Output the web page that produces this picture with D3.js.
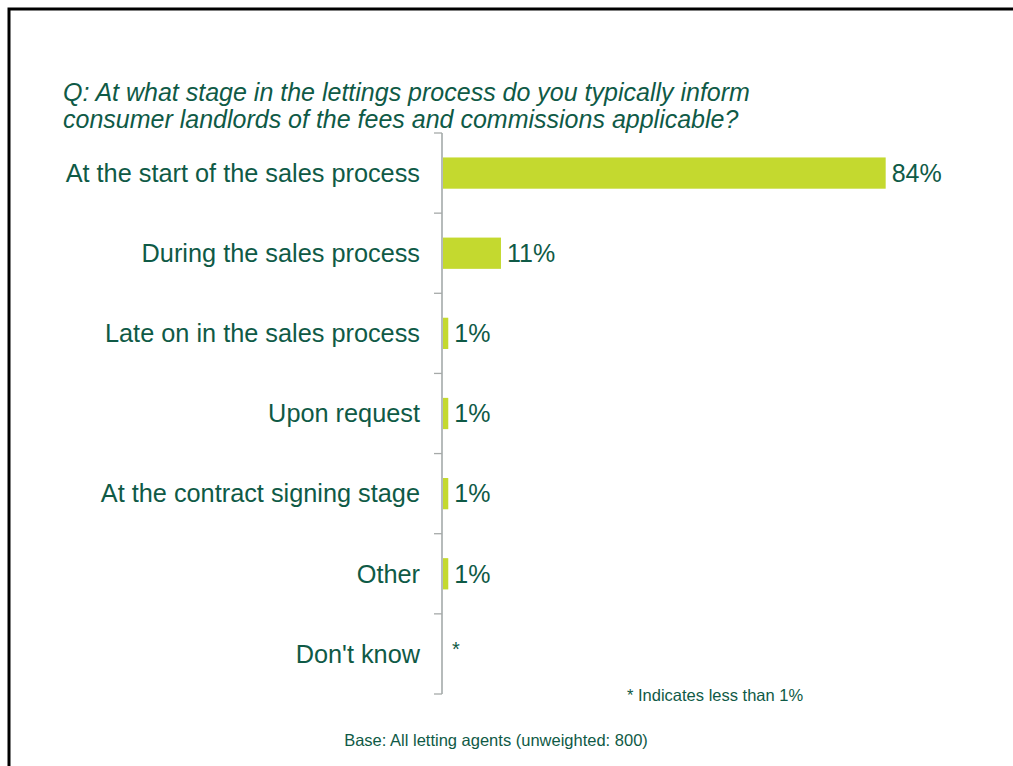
<!DOCTYPE html>
<html>
<head>
<meta charset="utf-8">
<script src="https://cdn.jsdelivr.net/npm/d3@7"></script>
<style>
  html, body { margin: 0; background: #fff; overflow: hidden; }
  svg { display: block; }
  text { font-family: "Liberation Sans", Arial, sans-serif; }
</style>
</head>
<body>
<svg id="chart" width="1013" height="766"></svg>
<script>
const categories = [
  "At the start of the sales process",
  "During the sales process",
  "Late on in the sales process",
  "Upon request",
  "At the contract signing stage",
  "Other",
  "Don't know"
];
const values = [84, 11, 1, 1, 1, 1, null];
const valueLabels = ["84%", "11%", "1%", "1%", "1%", "1%", "*"];
const titleLines = [
  "Q: At what stage in the lettings process do you typically inform",
  "consumer landlords of the fees and commissions applicable?"
];
const footnote = "* Indicates less than 1%";
const baseNote = "Base: All letting agents (unweighted: 800)";

const textColor = "#0f5a46";
const barColor = "#c4d92f";

const svg = d3.select("#chart");

// frame (top and left edges only visible)
svg.append("path")
  .attr("d", "M9,766 L9,9 L1013,9")
  .attr("fill", "none").attr("stroke", "#000").attr("stroke-width", 3);

// title
svg.append("g").selectAll("text")
  .data(titleLines).join("text")
  .attr("x", 63)
  .attr("y", (d, i) => 101 + i * 27)
  .attr("font-size", 25)
  .attr("font-style", "italic")
  .attr("fill", textColor)
  .text(d => d);

const axisX = 442;
const y = d3.scaleBand().domain(categories).range([133, 694]).paddingInner(0.61).paddingOuter(0.305);
const x = d3.scaleLinear().domain([0, 100]).range([axisX + 1, axisX + 1 + 527]);

// axis
const yAxis = d3.axisLeft(y).tickSize(0).tickFormat("");
const gAxis = svg.append("g").attr("transform", `translate(${axisX},0)`).call(yAxis);
gAxis.select(".domain").remove();
gAxis.append("line").attr("x1", 0).attr("x2", 0).attr("y1", 133).attr("y2", 694)
  .attr("stroke", "#8f9796").attr("stroke-width", 1.3);
const step = y.step();
const tickYs = d3.range(categories.length + 1).map(i => 133 + i * step);
gAxis.selectAll("line.tk").data(tickYs).join("line")
  .attr("class", "tk")
  .attr("x1", -8).attr("x2", 0)
  .attr("y1", d => d).attr("y2", d => d)
  .attr("stroke", "#a6aaa9").attr("stroke-width", 1.3);

// category labels
svg.append("g").selectAll("text")
  .data(categories).join("text")
  .attr("x", 420)
  .attr("y", d => y(d) + y.bandwidth() / 2)
  .attr("dy", "0.35em")
  .attr("text-anchor", "end")
  .attr("font-size", 25.3)
  .attr("fill", textColor)
  .text(d => d);

// bars
svg.append("g").selectAll("rect")
  .data(categories.map((c, i) => ({ c, v: values[i] })).filter(d => d.v != null))
  .join("rect")
  .attr("x", x(0))
  .attr("y", d => y(d.c))
  .attr("width", d => x(d.v) - x(0))
  .attr("height", y.bandwidth())
  .attr("fill", barColor);

// value labels
svg.append("g").selectAll("text")
  .data(categories.map((c, i) => ({ c, v: values[i], l: valueLabels[i] })))
  .join("text")
  .attr("x", d => x(d.v == null ? 0 : d.v) + (d.v == null ? 9 : 6))
  .attr("y", d => y(d.c) + y.bandwidth() / 2)
  .attr("dy", d => d.v == null ? "0.1em" : "0.35em")
  .attr("font-size", d => d.v == null ? 20 : 25)
  .attr("fill", textColor)
  .text(d => d.l);

// footnotes
svg.append("text")
  .attr("x", 627).attr("y", 701)
  .attr("font-size", 16.5)
  .attr("fill", textColor)
  .text(footnote);

svg.append("text")
  .attr("x", 496).attr("y", 746)
  .attr("text-anchor", "middle")
  .attr("font-size", 16.5)
  .attr("fill", textColor)
  .text(baseNote);
</script>
</body>
</html>
